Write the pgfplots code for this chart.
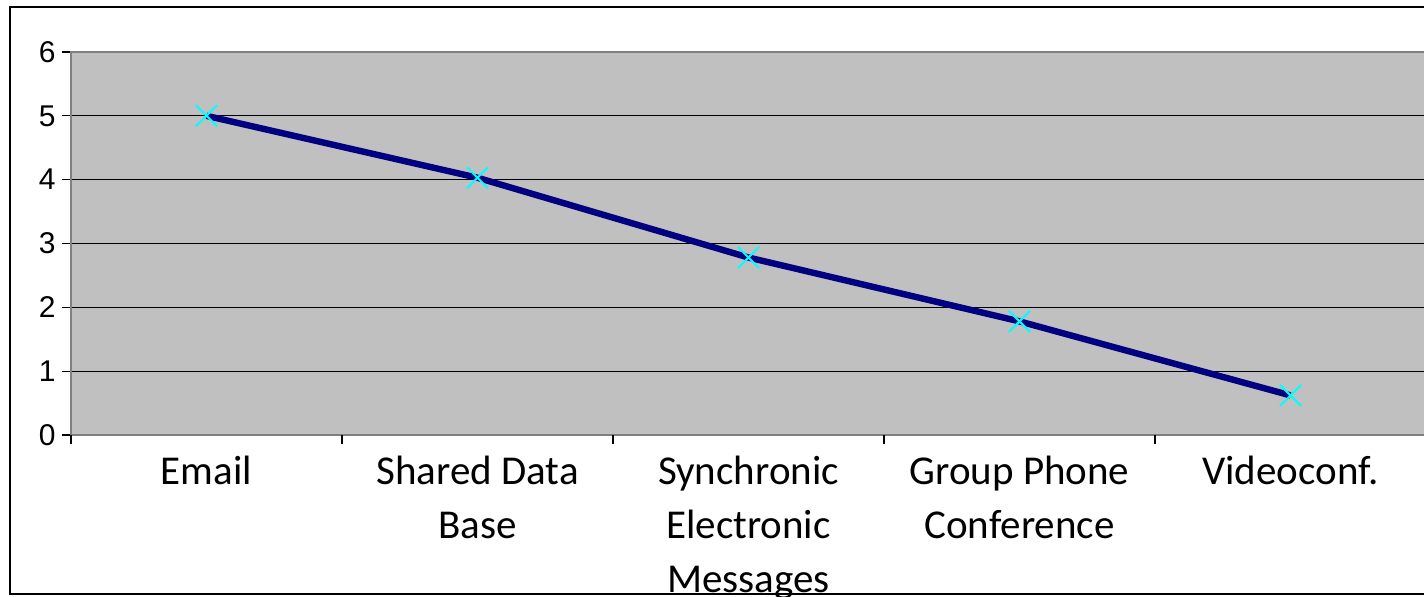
\documentclass[border=0pt]{standalone}
\usepackage{pgfplots}
\pgfplotsset{compat=1.18}
\usepackage{fontspec}
\setmainfont{Liberation Sans}
\newfontfamily\carlito{Carlito}
\definecolor{plotgray}{RGB}{192,192,192}
\definecolor{navyline}{RGB}{0,0,128}
\definecolor{markcyan}{RGB}{0,255,255}
\begin{document}
\begin{tikzpicture}
\useasboundingbox (0,0) rectangle (712pt,298.5pt);
\draw[line width=1pt, black] (5pt,1.5pt) rectangle (730pt,295pt);
\begin{axis}[
  at={(35.5pt,81pt)}, anchor=south west,
  scale only axis, width=677.5pt, height=191.5pt,
  xmin=-0.5, xmax=4.5, ymin=0, ymax=6,
  ytick={0,1,2,3,4,5,6},
  xtick={0,1,2,3,4},
  xticklabels={Email, Shared Data\\Base, Synchronic\\Electronic\\Messages, Group Phone\\Conference, Videoconf.},
  tick align=outside, tick pos=left,
  major tick length=4.5pt,
  x tick style={draw=none},
  y tick style={black, line width=0.6pt},
  extra x ticks={-0.5,0.5,1.5,2.5,3.5,4.5},
  extra x tick labels={},
  extra x tick style={grid=none, x tick style={draw=black, line width=0.6pt}},
  ymajorgrids, major grid style={black, line width=0.6pt},
  axis background/.style={fill=plotgray},
  axis line style={draw=black!50, line width=1pt},
  /pgf/number format/assume math mode=true,
  yticklabel style={font=\fontsize{15}{17}\selectfont, inner xsep=3pt},
  xticklabel style={font=\carlito\fontsize{20.5}{27}\selectfont, align=center, anchor=north, inner ysep=6pt},
]
\addplot[navyline, line width=3.2pt, mark=x, mark size=7.5pt,
  mark options={markcyan, line width=1pt, solid}]
  coordinates {(0,5) (1,4.03) (2,2.78) (3,1.78) (4,0.62)};
\end{axis}
\end{tikzpicture}
\end{document}
